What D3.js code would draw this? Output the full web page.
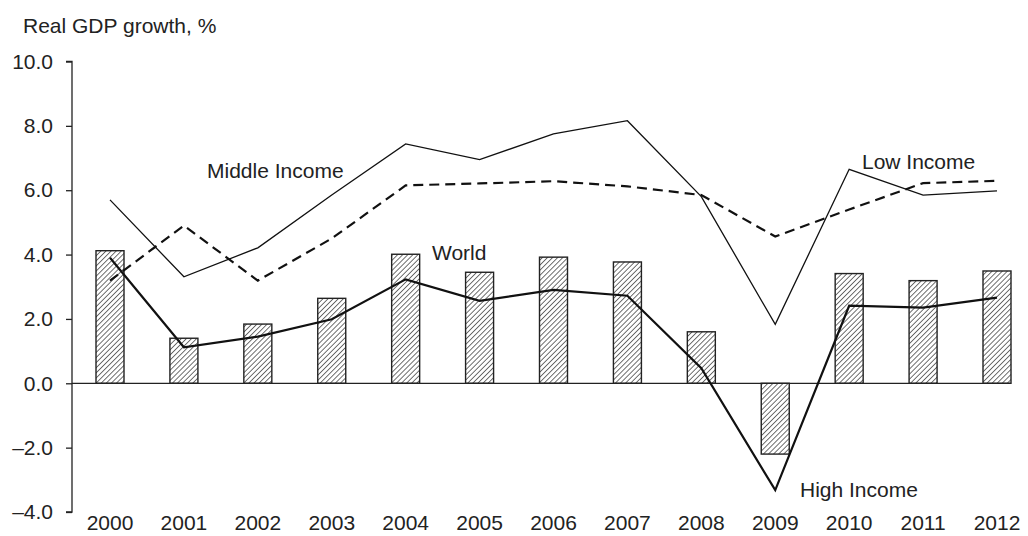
<!DOCTYPE html>
<html>
<head>
<meta charset="utf-8">
<script src="https://cdn.jsdelivr.net/npm/d3@7"></script>
<style>
  body { margin: 0; background: #fff; }
  svg text { font-family: "Liberation Sans", Arial, Helvetica, sans-serif; fill: #222; }
</style>
</head>
<body>
<svg id="chart" width="1028" height="536"></svg>
<script>
// chart values
const years = [2000, 2001, 2002, 2003, 2004, 2005, 2006, 2007, 2008, 2009, 2010, 2011, 2012]
const world = [4.12, 1.40, 1.84, 2.64, 4.01, 3.45, 3.92, 3.77, 1.60, -2.20, 3.41, 3.19, 3.49]
const highIncome = [3.90, 1.12, 1.45, 1.99, 3.23, 2.56, 2.90, 2.72, 0.47, -3.32, 2.41, 2.35, 2.66]
const thinIncome = [5.70, 3.31, 4.21, 5.85, 7.44, 6.95, 7.75, 8.16, 5.80, 1.83, 6.65, 5.85, 5.98]
const dashIncome = [3.19, 4.90, 3.19, 4.50, 6.15, 6.21, 6.28, 6.12, 5.85, 4.56, 5.40, 6.22, 6.29]
const yTicks = [10, 8, 6, 4, 2, 0, -2, -4]

const fs = 21

const svg = d3.select("#chart")

const x = d3.scaleLinear()
      .domain([2000, 2012])
      .range([110, 997])

const y = d3.scaleLinear()
      .domain([-4, 10])
      .range([512, 61.5])

const barW = 28

// hatch fill
const defs = svg.append("defs")
const pat = defs.append("pattern")
      .attr("id", "hatch")
      .attr("patternUnits", "userSpaceOnUse")
      .attr("width", 3.6)
      .attr("height", 3.6)
      .attr("patternTransform", "rotate(45)")
pat.append("rect").attr("width", 3.6).attr("height", 3.6).attr("fill", "#fff")
pat.append("line")
    .attr("x1", 0).attr("y1", 0).attr("x2", 0).attr("y2", 3.6)
    .attr("stroke", "#222").attr("stroke-width", 1.3)

// y axis
const yAxis = d3.axisLeft(y)
      .tickValues(yTicks)
      .tickSize(6)
      .tickFormat(d => (d < 0 ? "\u2013" + Math.abs(d).toFixed(1) : d.toFixed(1)))

const gy = svg.append("g")
    .attr("transform", "translate(72,0)")
    .call(yAxis)
gy.select(".domain").attr("stroke", "#222").attr("stroke-width", 1.3)
    .attr("d", `M-6,${y(10)}H0V${y(-4)}H-6`)
gy.selectAll(".tick line").attr("stroke", "#222").attr("stroke-width", 1.3)
gy.selectAll(".tick text")
    .attr("x", -19)
    .attr("font-size", fs)
    .style("font-family", "Liberation Sans, Arial, sans-serif")
    .attr("fill", "#222")

// bars (World)
svg.append("g").selectAll("rect")
    .data(years)
    .join("rect")
    .attr("x", (d, i) => x(d) - barW / 2)
    .attr("y", (d, i) => y(Math.max(0, world[i])))
    .attr("width", barW)
    .attr("height", (d, i) => Math.abs(y(world[i]) - y(0)))
    .attr("fill", "url(#hatch)")
    .attr("stroke", "#222")
    .attr("stroke-width", 1.4)

// zero line
svg.append("line")
    .attr("x1", 72).attr("x2", 1010)
    .attr("y1", y(0)).attr("y2", y(0))
    .attr("stroke", "#222").attr("stroke-width", 1.3)

const line = d3.line()
      .x((d, i) => x(years[i]))
      .y(d => y(d))

svg.append("path")
    .attr("d", line(thinIncome))
    .attr("fill", "none")
    .attr("stroke", "#111")
    .attr("stroke-width", 1.3)

svg.append("path")
    .attr("d", line(dashIncome))
    .attr("fill", "none")
    .attr("stroke", "#111")
    .attr("stroke-width", 2.2)
    .attr("stroke-dasharray", "10,6")

svg.append("path")
    .attr("d", line(highIncome))
    .attr("fill", "none")
    .attr("stroke", "#111")
    .attr("stroke-width", 2.2)

// year labels
svg.append("g").selectAll("text")
    .data(years)
    .join("text")
    .attr("x", d => x(d))
    .attr("y", 530)
    .attr("text-anchor", "middle")
    .attr("font-size", fs)
    .text(d => d)

// titles and series labels
svg.append("text").attr("x", 23).attr("y", 33).attr("font-size", fs).text("Real GDP growth, %")
svg.append("text").attr("x", 207).attr("y", 178).attr("font-size", fs).text("Middle Income")
svg.append("text").attr("x", 432).attr("y", 260).attr("font-size", fs).text("World")
svg.append("text").attr("x", 862).attr("y", 169).attr("font-size", fs).text("Low Income")
svg.append("text").attr("x", 800).attr("y", 497).attr("font-size", fs).text("High Income")
</script>
</body>
</html>
